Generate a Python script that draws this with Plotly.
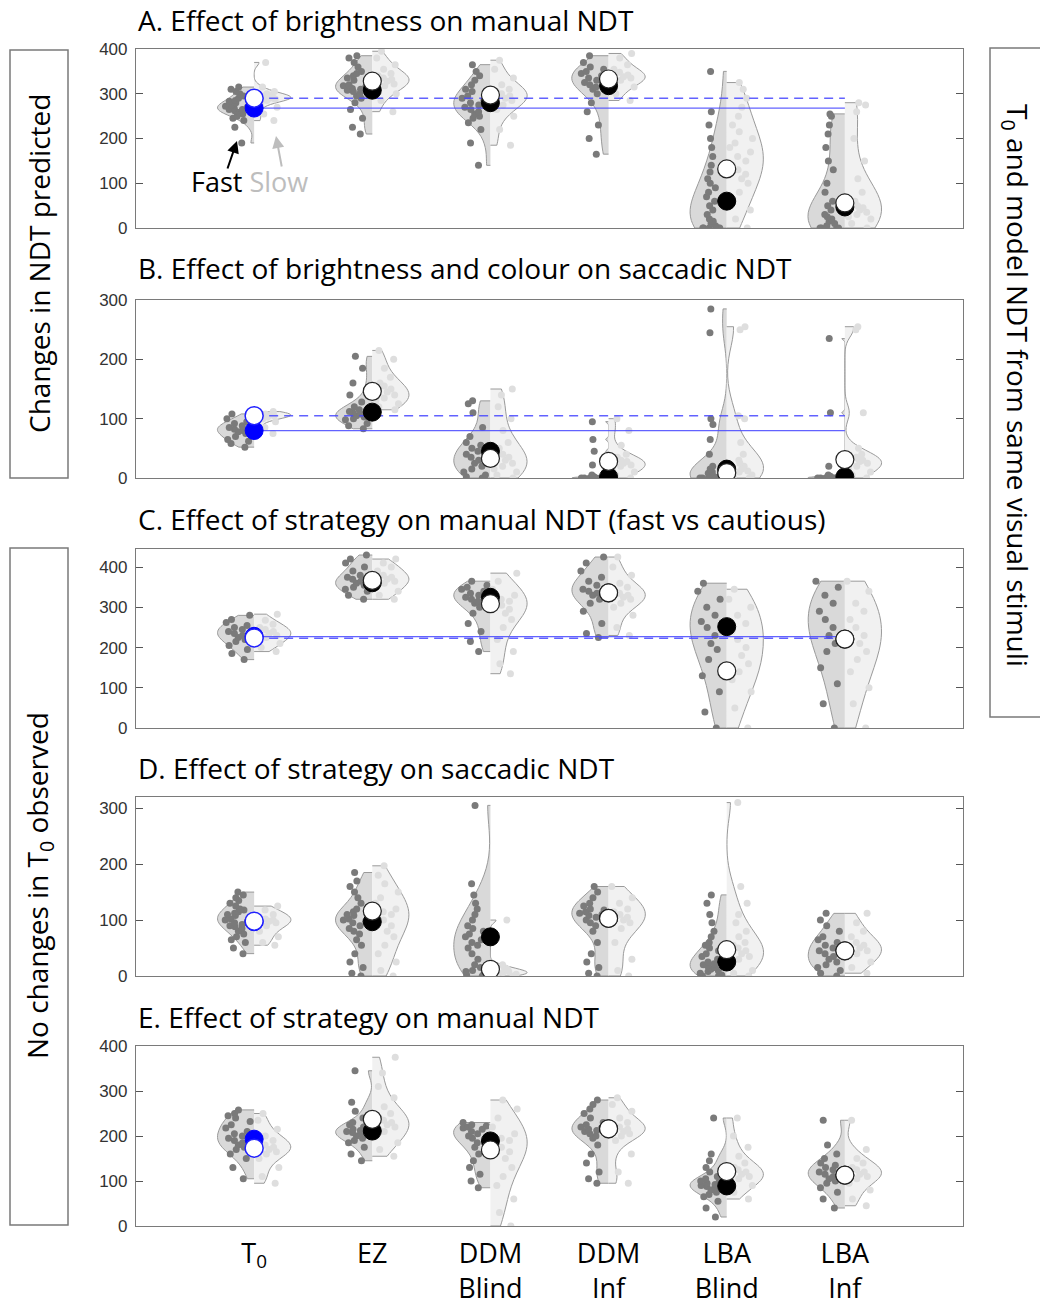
import plotly.graph_objects as go

W, H = 1040, 1308

categories = ["T<sub>0</sub>", "EZ", "DDM<br>Blind", "DDM<br>Inf", "LBA<br>Blind", "LBA<br>Inf"]
cat_pos = [1, 2, 3, 4, 5, 6]

panel_titles = [
    "A. Effect of brightness on manual NDT",
    "B. Effect of brightness and colour on saccadic NDT",
    "C. Effect of strategy on manual NDT (fast vs cautious)",
    "D. Effect of strategy on saccadic NDT",
    "E. Effect of strategy on manual NDT",
]
y_ranges = [[0, 400], [0, 300], [0, 445], [0, 320], [0, 400]]
y_ticks = [[0, 100, 200, 300, 400], [0, 100, 200, 300], [0, 100, 200, 300, 400],
           [0, 100, 200, 300], [0, 100, 200, 300, 400]]

# ---- Panel A: brightness, manual NDT ----
A_fast = [
    [190, 225, 240, 245, 250, 255, 258, 260, 262, 265, 265, 268, 270, 272, 275, 278, 280, 283, 285, 290, 295, 300, 305, 310, 315],
    [210, 225, 245, 265, 280, 290, 295, 300, 305, 308, 310, 312, 315, 318, 320, 325, 330, 335, 340, 345, 350, 360, 370, 380, 385],
    [140, 190, 220, 235, 245, 250, 255, 260, 265, 270, 275, 280, 285, 290, 295, 300, 305, 310, 320, 330, 340, 350, 365],
    [165, 200, 230, 260, 280, 300, 310, 315, 320, 325, 330, 335, 340, 345, 350, 355, 360, 370, 385],
    [0, 0, 0, 0, 0, 5, 10, 15, 20, 30, 40, 50, 60, 70, 80, 90, 100, 110, 125, 140, 160, 180, 200, 230, 260, 350],
    [0, 0, 0, 0, 5, 10, 15, 20, 25, 30, 40, 50, 60, 80, 100, 130, 150, 180, 210, 230, 250, 255],
]
A_slow = [
    [240, 255, 270, 280, 285, 288, 290, 290, 292, 295, 298, 300, 305, 315, 370],
    [260, 285, 300, 310, 318, 322, 328, 332, 335, 340, 345, 355, 365, 380, 395],
    [185, 220, 250, 265, 275, 285, 290, 295, 300, 305, 310, 320, 335, 355, 375],
    [285, 300, 315, 325, 330, 335, 338, 342, 348, 355, 365, 380, 390],
    [0, 20, 40, 60, 80, 100, 110, 120, 130, 140, 150, 160, 170, 180, 190, 200, 215, 230, 250, 270, 290, 310, 325],
    [0, 10, 20, 25, 30, 35, 40, 45, 50, 60, 80, 110, 150, 200, 260, 275, 280],
]
A_fast_mean = [268, 308, 280, 318, 60, 47]
A_slow_mean = [290, 328, 297, 333, 132, 56]

# ---- Panel B: brightness and colour, saccadic NDT ----
B_fast = [
    [52, 58, 62, 65, 70, 75, 78, 80, 82, 85, 88, 92, 95, 100, 108],
    [83, 88, 92, 98, 100, 103, 105, 108, 110, 112, 115, 120, 128, 140, 160, 185, 205],
    [0, 2, 5, 10, 15, 20, 25, 30, 35, 40, 45, 50, 55, 60, 70, 85, 110, 125, 130],
    [0, 0, 0, 0, 0, 0, 0, 0, 0, 0, 0, 0, 2, 5, 22, 45, 65, 95],
    [0, 0, 0, 0, 0, 1, 2, 3, 5, 8, 10, 15, 20, 40, 65, 90, 100, 245, 285],
    [0, 0, 0, 0, 0, 0, 0, 0, 0, 0, 1, 2, 3, 5, 20, 110, 235],
]
B_slow = [
    [75, 85, 95, 100, 103, 105, 106, 107, 108, 110, 112],
    [115, 120, 125, 130, 135, 140, 145, 150, 155, 160, 170, 185, 200, 215],
    [0, 5, 10, 15, 20, 25, 30, 35, 40, 50, 60, 80, 100, 120, 140, 150],
    [0, 5, 10, 15, 20, 22, 25, 28, 30, 35, 40, 55, 80, 100],
    [0, 2, 5, 8, 10, 12, 15, 20, 25, 30, 40, 60, 100, 105, 250, 255],
    [0, 5, 10, 15, 20, 25, 28, 30, 32, 35, 40, 50, 110, 250, 255],
]
B_fast_mean = [80, 111, 45, 2, 15, 2]
B_slow_mean = [105, 146, 33, 28, 9, 31]

# ---- Panel C: strategy, manual NDT ----
C_fast = [
    [170, 185, 195, 205, 215, 220, 225, 230, 235, 240, 245, 250, 255, 262, 270, 280],
    [320, 330, 340, 345, 350, 355, 360, 365, 370, 375, 380, 390, 400, 410, 420, 430],
    [190, 215, 240, 260, 285, 300, 310, 315, 320, 325, 330, 335, 340, 345, 350, 355, 365],
    [225, 235, 260, 290, 310, 320, 330, 335, 340, 345, 355, 365, 375, 390, 410, 425],
    [0, 40, 90, 130, 170, 195, 210, 230, 250, 265, 280, 300, 320, 340, 360],
    [0, 60, 110, 150, 190, 210, 230, 250, 270, 290, 310, 330, 350, 365],
]
C_slow = [
    [190, 200, 210, 218, 225, 230, 235, 240, 245, 250, 258, 268, 283],
    [320, 330, 340, 350, 360, 365, 370, 375, 380, 390, 400, 410, 420],
    [135, 160, 190, 220, 250, 270, 285, 295, 305, 310, 315, 320, 330, 345, 365, 385],
    [230, 250, 280, 300, 310, 320, 325, 330, 335, 340, 350, 360, 380, 400, 425],
    [0, 50, 90, 120, 140, 160, 180, 200, 220, 240, 260, 280, 300, 320, 345],
    [0, 60, 100, 140, 170, 190, 210, 230, 250, 270, 290, 310, 340, 365],
]
C_fast_mean = [228, 361, 325, 336, 252, 221]
C_slow_mean = [224, 367, 309, 336, 142, 221]

# ---- Panel D: strategy, saccadic NDT ----
D_fast = [
    [40, 50, 60, 65, 70, 75, 80, 85, 88, 90, 92, 95, 98, 100, 102, 105, 108, 110, 112, 115, 118, 120, 125, 130, 135, 140, 145, 150],
    [0, 5, 15, 25, 40, 55, 65, 75, 80, 85, 90, 95, 98, 100, 102, 105, 108, 110, 115, 120, 130, 140, 150, 160, 170, 185],
    [0, 2, 5, 8, 10, 15, 20, 30, 40, 50, 55, 60, 65, 70, 75, 80, 85, 90, 100, 110, 120, 130, 145, 165, 305],
    [0, 5, 15, 25, 40, 60, 80, 90, 95, 100, 105, 108, 110, 112, 115, 118, 120, 125, 130, 140, 150, 160],
    [0, 0, 2, 5, 8, 10, 12, 15, 18, 20, 22, 25, 30, 35, 40, 45, 50, 55, 60, 70, 80, 95, 110, 130, 145],
    [0, 5, 10, 15, 20, 25, 30, 35, 40, 45, 50, 55, 60, 65, 70, 80, 90, 100, 112],
]
D_slow = [
    [55, 60, 70, 80, 90, 95, 98, 100, 102, 105, 110, 118, 125],
    [0, 10, 25, 40, 55, 70, 80, 90, 100, 105, 110, 115, 120, 130, 140, 150, 165, 180, 197],
    [0, 2, 3, 5, 6, 8, 10, 12, 15, 20, 100],
    [0, 10, 30, 60, 85, 95, 100, 105, 110, 115, 120, 130, 140, 160],
    [0, 5, 10, 20, 30, 35, 40, 45, 50, 55, 60, 70, 80, 95, 110, 130, 160, 310],
    [5, 15, 25, 35, 40, 45, 50, 55, 60, 70, 80, 95, 112],
]
D_fast_mean = [97, 97, 70, 103, 25, 45]
D_slow_mean = [98, 116, 12, 103, 47, 45]

# ---- Panel E: strategy, manual NDT ----
E_fast = [
    [105, 130, 150, 160, 170, 175, 180, 185, 190, 195, 200, 205, 210, 218, 225, 232, 240, 245, 250, 258],
    [145, 160, 175, 185, 190, 195, 200, 205, 208, 210, 212, 215, 220, 225, 230, 240, 255, 275, 345],
    [85, 100, 115, 130, 145, 160, 175, 185, 195, 200, 205, 210, 215, 218, 220, 222, 225, 230],
    [95, 105, 120, 140, 160, 180, 195, 200, 205, 210, 212, 215, 218, 220, 225, 230, 240, 250, 260, 270, 280],
    [20, 40, 55, 65, 70, 75, 80, 85, 88, 90, 92, 95, 98, 100, 105, 110, 120, 130, 145, 160, 240],
    [40, 60, 75, 85, 95, 100, 105, 110, 115, 120, 125, 130, 135, 140, 150, 160, 180, 235],
]
E_slow = [
    [95, 110, 130, 150, 160, 165, 170, 175, 180, 185, 190, 200, 215, 235, 250],
    [155, 170, 185, 200, 210, 220, 225, 230, 235, 240, 250, 265, 285, 310, 340, 375],
    [0, 30, 60, 90, 110, 130, 150, 165, 175, 185, 190, 195, 205, 220, 240, 260, 280],
    [95, 120, 160, 190, 200, 205, 210, 215, 220, 225, 230, 240, 255, 270, 285],
    [60, 75, 90, 100, 105, 110, 115, 120, 125, 130, 140, 155, 175, 200, 240],
    [45, 60, 80, 95, 105, 110, 115, 120, 125, 130, 140, 150, 170, 235],
]
E_fast_mean = [193, 211, 189, 216, 89, 113]
E_slow_mean = [173, 237, 169, 216, 121, 113]

# T0 reference lines (fast = solid, slow = dashed); None = no line
t0_line_fast = [268, 80, 227, None, None]
t0_line_slow = [290, 105, 223, None, None]

fast_sets = [A_fast, B_fast, C_fast, D_fast, E_fast]
slow_sets = [A_slow, B_slow, C_slow, D_slow, E_slow]
fast_means = [A_fast_mean, B_fast_mean, C_fast_mean, D_fast_mean, E_fast_mean]
slow_means = [A_slow_mean, B_slow_mean, C_slow_mean, D_slow_mean, E_slow_mean]

# pixel layout of the panels (top, bottom)
panel_px = [(49, 228), (300, 478), (549, 728), (797, 976), (1046, 1226)]
title_px = [20, 268, 519, 768, 1017]
x_px = (136, 963)

FONT = "Open Sans"
FS = 28
FS_TICK = 27
fig = go.Figure()

for p in range(5):
    xa = "x" if p == 0 else f"x{p+1}"
    ya = "y" if p == 0 else f"y{p+1}"
    for vals_set, side, fill, pcol, ppos, tag in [
        (fast_sets[p], "negative", "#d9d9d9", "#7a7a7a", -0.42, "f"),
        (slow_sets[p], "positive", "#f1f1f1", "#dedede", 0.42, "s"),
    ]:
        for i, vals in enumerate(vals_set):
            fig.add_trace(go.Violin(
                x=[cat_pos[i]] * len(vals), y=vals, side=side, width=0.62,
                scalemode="width", scalegroup=f"p{p}c{i}{tag}", spanmode="hard",
                fillcolor=fill, line=dict(color="#9a9a9a", width=1),
                points="all", pointpos=ppos, jitter=0.38,
                marker=dict(color=pcol, size=7, line=dict(width=0)),
                box_visible=False, meanline_visible=False,
                xaxis=xa, yaxis=ya, showlegend=False, hoverinfo="skip"))
    # T0 reference lines
    if t0_line_fast[p] is not None:
        fig.add_trace(go.Scatter(x=[cat_pos[0], cat_pos[-1]], y=[t0_line_fast[p]] * 2, mode="lines",
                                 line=dict(color="rgba(70,70,255,0.85)", width=1.2),
                                 xaxis=xa, yaxis=ya, showlegend=False, hoverinfo="skip"))
        fig.add_trace(go.Scatter(x=[cat_pos[0], cat_pos[-1]], y=[t0_line_slow[p]] * 2, mode="lines",
                                 line=dict(color="rgba(70,70,255,0.85)", width=1.4, dash="9px,6px"),
                                 xaxis=xa, yaxis=ya, showlegend=False, hoverinfo="skip"))
    # means: fast
    fig.add_trace(go.Scatter(x=cat_pos[1:], y=fast_means[p][1:], mode="markers",
                             marker=dict(size=18, color="black", line=dict(color="black", width=1)),
                             xaxis=xa, yaxis=ya, showlegend=False, hoverinfo="skip"))
    fig.add_trace(go.Scatter(x=cat_pos[:1], y=fast_means[p][:1], mode="markers",
                             marker=dict(size=18, color="#0000ff", line=dict(color="#0000ff", width=1)),
                             xaxis=xa, yaxis=ya, showlegend=False, hoverinfo="skip"))
    # means: slow
    fig.add_trace(go.Scatter(x=cat_pos[1:], y=slow_means[p][1:], mode="markers",
                             marker=dict(size=18, color="white", line=dict(color="#222", width=1.2)),
                             xaxis=xa, yaxis=ya, showlegend=False, hoverinfo="skip"))
    fig.add_trace(go.Scatter(x=cat_pos[:1], y=slow_means[p][:1], mode="markers",
                             marker=dict(size=18, color="white", line=dict(color="#2020ff", width=1.5)),
                             xaxis=xa, yaxis=ya, showlegend=False, hoverinfo="skip"))

layout = dict(
    width=W, height=H, margin=dict(l=0, r=0, t=0, b=0, autoexpand=False),
    paper_bgcolor="white", plot_bgcolor="white", violinmode="overlay",
    showlegend=False,
)
for p in range(5):
    top, bot = panel_px[p]
    xkey = "xaxis" if p == 0 else f"xaxis{p+1}"
    ykey = "yaxis" if p == 0 else f"yaxis{p+1}"
    xname = "x" if p == 0 else f"x{p+1}"
    yname = "y" if p == 0 else f"y{p+1}"
    layout[xkey] = dict(
        domain=[x_px[0] / W, x_px[1] / W], range=[0, 7], anchor=yname, automargin=False,
        showgrid=False, zeroline=False, showline=True, linecolor="#7a7a7a", linewidth=1.2,
        mirror=True, ticks="", tickvals=cat_pos,
        ticktext=categories if p == 4 else [""] * 6,
        showticklabels=(p == 4), ticklabelstandoff=3,
        tickfont=dict(family=FONT, size=FS_TICK, color="black"),
    )
    layout[ykey] = dict(
        domain=[1 - bot / H, 1 - top / H], range=y_ranges[p], anchor=xname, automargin=False,
        showgrid=False, zeroline=False, showline=True, linecolor="#7a7a7a", linewidth=1.2,
        mirror="ticks", ticks="inside", ticklen=7, tickcolor="#555", tickvals=y_ticks[p],
        ticklabelstandoff=4,
        tickfont=dict(family="Liberation Sans", size=17, color="#333"),
    )
fig.update_layout(**layout)

annotations = []
for p in range(5):
    annotations.append(dict(text=panel_titles[p], xref="paper", yref="paper",
                            x=136 / W, y=1 - title_px[p] / H, xanchor="left", yanchor="middle",
                            showarrow=False, font=dict(family=FONT, size=FS, color="black")))

# Side labels
annotations.append(dict(text="Changes in NDT predicted", xref="paper", yref="paper",
                        x=39 / W, y=1 - 264 / H, xanchor="center", yanchor="middle",
                        textangle=-90, showarrow=False,
                        font=dict(family=FONT, size=FS, color="black")))
annotations.append(dict(text="No changes in T<sub>0</sub> observed", xref="paper", yref="paper",
                        x=39 / W, y=1 - 886 / H, xanchor="center", yanchor="middle",
                        textangle=-90, showarrow=False,
                        font=dict(family=FONT, size=FS, color="black")))
annotations.append(dict(text="T<sub>0</sub> and model NDT from same visual stimuli", xref="paper", yref="paper",
                        x=1016 / W, y=1 - 385 / H, xanchor="center", yanchor="middle",
                        textangle=90, showarrow=False,
                        font=dict(family=FONT, size=FS, color="black")))

# Fast / Slow legend text with arrows
annotations.append(dict(text="Fast <span style='color:#bdbdbd'>Slow</span>", xref="paper", yref="paper",
                        x=249 / W, y=1 - 181 / H, xanchor="center", yanchor="middle", showarrow=False,
                        font=dict(family=FONT, size=FS_TICK, color="black")))
annotations.append(dict(text="", xref="paper", yref="paper", x=237 / W, y=1 - 141 / H,
                        ax=-10, ay=29, axref="pixel", ayref="pixel", showarrow=True,
                        arrowhead=2, arrowsize=1.2, arrowwidth=2, arrowcolor="black"))
annotations.append(dict(text="", xref="paper", yref="paper", x=276 / W, y=1 - 136 / H,
                        ax=6, ay=32, axref="pixel", ayref="pixel", showarrow=True,
                        arrowhead=2, arrowsize=1.2, arrowwidth=2, arrowcolor="#bdbdbd"))

shapes = []
for (x0, y0, x1, y1) in [(10, 50, 68, 478), (10, 548, 68, 1225), (990, 48, 1050, 717)]:
    shapes.append(dict(type="rect", xref="paper", yref="paper",
                       x0=x0 / W, x1=x1 / W, y0=1 - y1 / H, y1=1 - y0 / H,
                       line=dict(color="#7a7a7a", width=1.5), fillcolor="rgba(0,0,0,0)"))

fig.update_layout(annotations=annotations, shapes=shapes)
fig.write_html("out.html")
